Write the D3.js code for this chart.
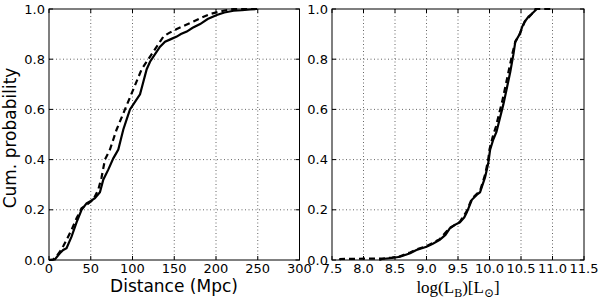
<!DOCTYPE html>
<html>
  <head>
    <script src="https://d3js.org/d3.v7.min.js"></script>
    <style>
      body { margin: 0; background: #fff; }
      text { font-family: "DejaVu Sans", sans-serif; fill: #000; }
    </style>
  </head>
  <body>
    <div id="chart"></div>
    <script>
      // Data (cumulative distributions)
      const distTicks = [0, 50, 100, 150, 200, 250, 300];
      const lumTicks = [7.5, 8.0, 8.5, 9.0, 9.5, 10.0, 10.5, 11.0, 11.5];
      const probTicks = [0, 0.2, 0.4, 0.6, 0.8, 1.0];

      // distance (Mpc), cumulative probability
      const distSolid = [[0,0],[7,0.002],[13,0.027],[17,0.04],[21,0.047],[27,0.093],[33,0.15],[39,0.2],[45,0.226],[50,0.235],[55,0.246],[61,0.27],[65,0.32],[71,0.36],[77,0.405],[83,0.44],[86,0.48],[89,0.52],[93,0.56],[97,0.60],[103,0.63],[109,0.66],[113,0.71],[117,0.76],[121,0.79],[127,0.82],[133,0.85],[139,0.87],[146,0.88],[153,0.89],[158,0.90],[165,0.91],[172,0.925],[181,0.94],[190,0.96],[201,0.976],[210,0.986],[221,0.993],[231,0.995],[241,0.998],[249,1.0]];
      const distDashed = [[0,0],[5,0.002],[9,0.015],[13,0.033],[17,0.055],[21,0.08],[27,0.12],[33,0.166],[39,0.206],[45,0.22],[53,0.24],[59,0.28],[63,0.33],[67,0.40],[73,0.44],[77,0.48],[81,0.52],[86,0.56],[91,0.60],[96,0.64],[101,0.68],[106,0.72],[111,0.76],[117,0.79],[123,0.82],[127,0.84],[133,0.87],[137,0.89],[144,0.905],[153,0.92],[163,0.935],[173,0.95],[183,0.966],[193,0.98],[205,0.99],[213,0.996],[221,1.0],[254,1.0]];

      // log(L_B), cumulative probability
      const lumSolid = [[8.25,0],[8.29,0.004],[8.45,0.008],[8.58,0.013],[8.66,0.02],[8.74,0.027],[8.84,0.04],[9.0,0.053],[9.1,0.065],[9.21,0.08],[9.3,0.10],[9.37,0.126],[9.45,0.14],[9.53,0.15],[9.6,0.17],[9.64,0.19],[9.72,0.24],[9.8,0.26],[9.85,0.27],[9.93,0.33],[9.98,0.385],[10.01,0.44],[10.06,0.48],[10.11,0.51],[10.17,0.57],[10.22,0.62],[10.28,0.69],[10.33,0.75],[10.38,0.82],[10.41,0.87],[10.48,0.90],[10.52,0.93],[10.56,0.95],[10.62,0.97],[10.67,0.98],[10.75,1.0]];
      const lumDashed = [[7.62,0],[7.63,0.004],[8.3,0.006],[8.45,0.01],[8.58,0.015],[8.74,0.03],[8.84,0.042],[9.0,0.055],[9.21,0.083],[9.37,0.128],[9.53,0.152],[9.64,0.195],[9.72,0.245],[9.85,0.275],[9.93,0.34],[9.98,0.40],[10.0,0.44],[10.05,0.49],[10.1,0.53],[10.15,0.58],[10.2,0.63],[10.26,0.70],[10.31,0.76],[10.37,0.83],[10.41,0.87],[10.48,0.90],[10.56,0.95],[10.67,0.98],[10.73,1.0],[10.97,1.0]];

      const width = 600, height = 300;
      const plotTop = 9, plotBottom = 260;

      const svg = d3.select("#chart")
        .append("svg")
        .attr("width", width)
        .attr("height", height);

      const yScale = d3.scaleLinear().domain([0, 1]).range([plotBottom, plotTop]);

      function panel(x0, x1, domain, ticks, fmt, solid, dashed) {
        const xScale = d3.scaleLinear().domain(domain).range([x0, x1]);
        const g = svg.append("g");

        // dotted grid
        const inner = ticks.filter(t => t > domain[0] && t < domain[1]);
        g.selectAll(".vgrid").data(inner).enter().append("line")
          .attr("x1", d => xScale(d)).attr("x2", d => xScale(d))
          .attr("y1", plotTop).attr("y2", plotBottom)
          .style("stroke", "#666").style("stroke-width", 1).style("stroke-dasharray", "1,2.5");
        g.selectAll(".hgrid").data(probTicks.slice(1, -1)).enter().append("line")
          .attr("x1", x0).attr("x2", x1)
          .attr("y1", d => yScale(d)).attr("y2", d => yScale(d))
          .style("stroke", "#666").style("stroke-width", 1).style("stroke-dasharray", "1,2.5");

        // ticks inward on all sides
        const tickLen = 4;
        ticks.forEach(t => {
          g.append("line").attr("x1", xScale(t)).attr("x2", xScale(t))
            .attr("y1", plotBottom).attr("y2", plotBottom - tickLen).style("stroke", "#000");
          g.append("line").attr("x1", xScale(t)).attr("x2", xScale(t))
            .attr("y1", plotTop).attr("y2", plotTop + tickLen).style("stroke", "#000");
        });
        probTicks.forEach(t => {
          g.append("line").attr("x1", x0).attr("x2", x0 + tickLen)
            .attr("y1", yScale(t)).attr("y2", yScale(t)).style("stroke", "#000");
          g.append("line").attr("x1", x1).attr("x2", x1 - tickLen)
            .attr("y1", yScale(t)).attr("y2", yScale(t)).style("stroke", "#000");
        });

        // tick labels
        g.selectAll(".xlab").data(ticks).enter().append("text")
          .attr("x", d => xScale(d)).attr("y", 273)
          .attr("text-anchor", "middle")
          .style("font-size", "13px")
          .text(fmt);
        g.selectAll(".ylab").data(probTicks).enter().append("text")
          .attr("x", x0 - 4).attr("y", d => yScale(d) + 4.5)
          .attr("text-anchor", "end")
          .style("font-size", "13px")
          .text(d => d.toFixed(1));

        const line = d3.line()
          .x(d => xScale(d[0]))
          .y(d => yScale(d[1]));

        g.append("path").datum(solid)
          .attr("d", line)
          .style("fill", "none").style("stroke", "#000").style("stroke-width", 2.2);
        g.append("path").datum(dashed)
          .attr("d", line)
          .style("fill", "none").style("stroke", "#000").style("stroke-width", 2.2)
          .style("stroke-dasharray", "6,4");

        // frame
        g.append("rect")
          .attr("x", x0).attr("y", plotTop)
          .attr("width", x1 - x0).attr("height", plotBottom - plotTop)
          .style("fill", "none").style("stroke", "#000").style("stroke-width", 1);

        return g;
      }

      panel(49, 299.5, [0, 300], distTicks, d => d, distSolid, distDashed);
      panel(332, 584, [7.5, 11.5], lumTicks, d => d.toFixed(1), lumSolid, lumDashed);

      // axis labels
      svg.append("text")
        .attr("transform", "translate(16, 138) rotate(-90)")
        .attr("text-anchor", "middle")
        .style("font-size", "17px")
        .text("Cum. probability");

      svg.append("text")
        .attr("x", 174).attr("y", 292)
        .attr("text-anchor", "middle")
        .style("font-size", "17px")
        .text("Distance (Mpc)");

      const lab = svg.append("text")
        .attr("x", 458).attr("y", 293)
        .attr("text-anchor", "middle")
        .style("font-family", "'Liberation Serif', 'DejaVu Serif', serif")
        .style("font-size", "17px");
      lab.append("tspan").text("log(L");
      lab.append("tspan").attr("dy", 4).style("font-size", "12px").text("B");
      lab.append("tspan").attr("dy", -4).text(")[L");
      lab.append("tspan").attr("dy", 4).style("font-size", "12px").text("\u2299");
      lab.append("tspan").attr("dy", -4).text("]");
    </script>
  </body>
</html>
